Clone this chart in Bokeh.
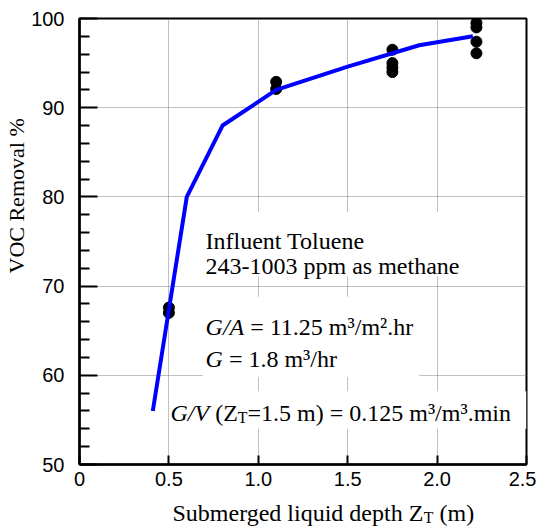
from bokeh.plotting import figure
from bokeh.models import Range1d, FixedTicker, Label, BoxAnnotation, Title
from bokeh.layouts import column
from bokeh.embed import file_html
from bokeh.resources import INLINE

# ---- data ----
curve_x = [0.41, 0.60, 0.80, 1.10, 1.50, 1.90, 2.20]
curve_y = [56.0, 80.0, 88.0, 92.0, 94.6, 97.0, 98.0]

pts_x = [0.5, 0.5, 1.1, 1.1, 1.75, 1.75, 1.75, 1.75, 2.22, 2.22, 2.22, 2.22]
pts_y = [67.6, 67.0, 92.9, 92.1, 96.5, 95.0, 94.5, 94.0, 99.5, 99.0, 97.4, 96.1]

x_ticks = [0, 0.5, 1.0, 1.5, 2.0, 2.5]
x_tick_labels = ["0", "0.5", "1.0", "1.5", "2.0", "2.5"]
y_ticks = [50, 60, 70, 80, 90, 100]
y_minor_ticks = [52, 54, 56, 58, 62, 64, 66, 68, 72, 74, 76, 78, 82, 84, 86, 88, 92, 94, 96, 98]

SERIF = "Liberation Serif"
SANS = "Liberation Sans"

FRAME_W, FRAME_H = 447, 446
LEFT_B, RIGHT_B, TOP_B, BOTTOM_B = 79, 10, 18, 30
XSTRIP_H = 35

p = figure(frame_width=FRAME_W, frame_height=FRAME_H,
           min_border_left=LEFT_B, min_border_right=RIGHT_B,
           min_border_top=TOP_B, min_border_bottom=BOTTOM_B,
           x_range=Range1d(0, 2.5), y_range=Range1d(50, 100),
           output_backend="svg", toolbar_location=None)
p.background_fill_color = "white"
p.border_fill_color = "white"
p.outline_line_color = "black"
p.outline_line_width = 2

# axes
p.xaxis.ticker = FixedTicker(ticks=x_ticks)
p.xaxis.major_label_overrides = {t: s for t, s in zip(x_ticks, x_tick_labels)}
p.yaxis.ticker = FixedTicker(ticks=y_ticks, minor_ticks=y_minor_ticks)
for ax in (p.xaxis, p.yaxis):
    ax.axis_line_width = 2.5
    ax.axis_line_color = "black"
    ax.major_tick_line_width = 2
    ax.minor_tick_line_width = 2
    ax.major_tick_line_color = "black"
    ax.minor_tick_line_color = "black"
    ax.major_tick_out = 0
    ax.minor_tick_out = 0
    ax.major_label_text_font = SANS
    ax.major_label_text_font_size = "20px"
    ax.major_label_text_color = "black"
p.xaxis.major_tick_in = 9
p.xaxis.minor_tick_in = 0
p.xaxis.major_label_standoff = 7
p.yaxis.major_tick_in = 18
p.yaxis.minor_tick_in = 10
p.yaxis.major_label_standoff = 15

# y axis title (placed higher than centre, as in the reference)
p.add_layout(Title(text="VOC Removal %", align="left", offset=191, standoff=0,
                   text_font=SERIF, text_font_size="22px", text_font_style="normal",
                   text_color="black"), "left")

# grid
p.grid.grid_line_color = "#808080"
p.grid.grid_line_dash = "1 1"
p.grid.grid_line_width = 1

# white boxes behind the annotation texts
for l, r, b, t in [(0.67, 2.30, 71.1, 78.3), (0.69, 1.90, 59.8, 68.8), (0.51, 2.50, 54.0, 58.2)]:
    p.add_layout(BoxAnnotation(left=l, right=r, bottom=b, top=t, fill_color="white",
                               fill_alpha=1, line_color=None, level="underlay"))

# data
p.scatter(pts_x, pts_y, size=11, color="black")
p.line(curve_x, curve_y, line_width=4, color="#0000FF", line_join="round")

# ---- rich text helper (Times metrics) ----
W = {' ': 250, '(': 333, ')': 333, '%': 833, '.': 250, '/': 278, '-': 333, '=': 564,
     '\u00b3': 300, '\u00b2': 300, 'A': 722, 'G': 722, 'I': 333, 'T': 611, 'V': 722,
     'Z': 611, 'S': 556, 'a': 444, 'b': 500, 'c': 444, 'd': 500, 'e': 444, 'f': 333,
     'g': 500, 'h': 500, 'i': 278, 'l': 278, 'm': 778, 'n': 500, 'o': 500, 'p': 500,
     'q': 500, 'r': 333, 's': 389, 't': 278, 'u': 500, 'v': 500}
WI = {'G': 722, '/': 278, 'A': 611, 'V': 611}


def run_width(s, size, italic=False):
    tbl = WI if italic else W
    return sum(tbl.get(c, W.get(c, 500)) for c in s) * size / 1000.0


def rich(fig, x, y, runs, size=24):
    off = 0.0
    for text, style in runs:
        fs = size * 0.66 if style == "sub" else size
        lead = len(text) - len(text.lstrip(" "))
        off += run_width(" " * lead, fs)
        body = text.lstrip(" ")
        fig.add_layout(Label(x=x, y=y, x_offset=off, y_offset=-5 if style == "sub" else 0,
                             text=body, text_font=SERIF, text_font_size=f"{fs:.1f}px",
                             text_font_style="italic" if style == "i" else "normal",
                             text_color="black", text_baseline="alphabetic", text_align="left"))
        off += run_width(body, fs, style == "i")


rich(p, 0.705, 75.1, [("Influent Toluene", "r")])
rich(p, 0.705, 72.2, [("243-1003 ppm as methane", "r")])
rich(p, 0.705, 65.4, [("G/A", "i"), (" = 11.25 m\u00b3/m\u00b2.hr", "r")])
rich(p, 0.705, 61.8, [("G", "i"), (" = 1.8 m\u00b3/hr", "r")])
rich(p, 0.509, 55.8, [("G/V", "i"), (" (Z", "r"), ("T", "sub"),
                      ("=1.5 m) = 0.125 m\u00b3/m\u00b3.min", "r")])

# ---- x axis title strip (bottom), sharing the x scale ----
xs = figure(frame_width=FRAME_W, frame_height=XSTRIP_H,
            min_border_left=LEFT_B, min_border_right=RIGHT_B,
            min_border_top=0, min_border_bottom=0,
            x_range=p.x_range, y_range=Range1d(0, XSTRIP_H),
            x_axis_type=None, y_axis_type=None,
            output_backend="svg", toolbar_location=None)
xs.outline_line_color = None
xs.grid.visible = False
xs.background_fill_color = "white"
xs.border_fill_color = "white"
rich(xs, 0.52, XSTRIP_H - 18, [("Submerged liquid depth Z", "r"), ("T", "sub"), (" (m)", "r")], size=24)

layout = column(p, xs)

open("out.html", "w").write(file_html(layout, INLINE))
